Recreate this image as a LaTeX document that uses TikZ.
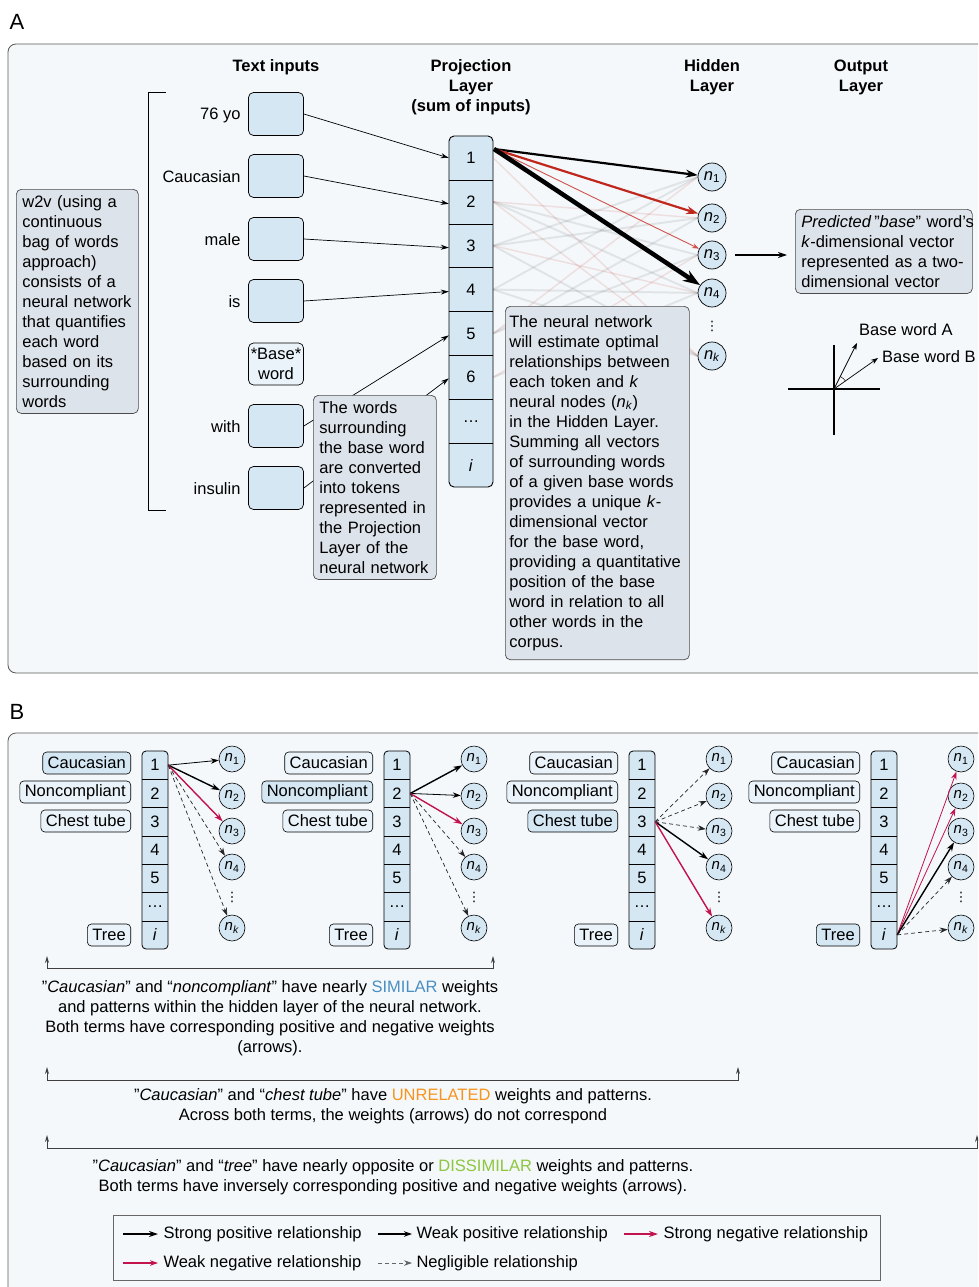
\documentclass[tikz,border=0pt]{standalone}
\usepackage{fontspec}
\setmainfont{Liberation Sans}
\newfontfamily\symfont{DejaVu Sans}
\usetikzlibrary{arrows.meta}

\definecolor{panelbg}{HTML}{F4F8FB}
\definecolor{cellblue}{HTML}{D4E7F3}
\definecolor{paleblue}{HTML}{EAF3FA}
\definecolor{notegray}{HTML}{DDE3EA}
\definecolor{wred}{HTML}{C0281E}
\definecolor{negred}{HTML}{C2134C}
\definecolor{simblue}{HTML}{4A8FC2}
\definecolor{unrorange}{HTML}{F7941D}
\definecolor{disgreen}{HTML}{8DC63F}

\newcommand{\basefont}{\fontsize{16.5}{20}\selectfont}
\newcommand{\nsub}[1]{\textit{n}\textsubscript{#1}}

\tikzset{
  panel/.style={draw=black!65, fill=panelbg, line width=0.8pt, rounded corners=8pt},
  hdr/.style={font=\basefont\bfseries, align=center},
  inbox/.style={draw, fill=cellblue, rounded corners=5pt, minimum width=55pt, minimum height=43pt, line width=0.7pt},
  note/.style={draw=black!70, fill=notegray, rounded corners=5pt, line width=0.7pt, anchor=north west, align=left, inner xsep=6pt, inner ysep=6pt},
  pcell/.style={minimum width=44pt, minimum height=43.875pt, inner sep=0pt},
  hid/.style={draw, circle, fill=cellblue, minimum size=28pt, inner sep=0pt, line width=0.7pt},
  feed/.style={-{Stealth[length=8pt,width=5pt]}, line width=0.7pt},
  ghost/.style={black, opacity=0.08, line width=2pt},
  ghostred/.style={wred, opacity=0.12, line width=1.5pt},
  vdotsnode/.style={font=\symfont\fontsize{13}{14}\selectfont, inner sep=0pt},
  % part B
  bcell/.style={minimum width=26pt, minimum height=28.29pt, inner sep=0pt},
  bnode/.style={draw, circle, fill=cellblue, minimum size=26pt, inner sep=0pt, line width=0.6pt, font=\fontsize{15}{18}\selectfont},
  wbox/.style={draw, rounded corners=4pt, anchor=east, minimum height=22pt, inner xsep=5pt, inner ysep=2pt, line width=0.6pt},
  spos/.style={-{Stealth[length=9pt,width=6pt]}, line width=1.4pt, black},
  wpos/.style={-{Stealth[length=8pt,width=5.5pt]}, line width=0.8pt, black},
  sneg/.style={-{Stealth[length=9pt,width=6pt]}, line width=1.4pt, negred},
  wneg/.style={-{Stealth[length=8pt,width=5.5pt]}, line width=0.8pt, negred},
  negl/.style={-{Stealth[length=8pt,width=5.5pt]}, line width=0.7pt, black!85, dash pattern=on 4pt off 3pt},
  spanline/.style={{Stealth[length=7pt,width=4pt]}-{Stealth[length=7pt,width=4pt]}, line width=0.8pt, black!75},
}

\begin{document}
\begin{tikzpicture}[x=1pt, y=-1pt, font=\basefont]
\useasboundingbox (0,0) rectangle (978,1287);
\clip (0,0) rectangle (978,1287);

% ---------- A ----------
\node[font=\fontsize{22}{24}\selectfont] (labA) at (17,22) {A};
\draw[panel] (8,44) rectangle (995,673);

\node[hdr] (hText) at (276,67) {Text inputs};
\node[hdr] (hProj) at (471,87) {Projection\\Layer\\(sum of inputs)};
\node[hdr] (hHid) at (712,77) {Hidden\\Layer};
\node[hdr] (hOut) at (861,77) {Output\\Layer};

\draw[line width=0.8pt] (166,92) -- (148,92) -- (148,510) -- (166,510);

\foreach \i/\y/\lab in {1/114/76 yo, 2/176/Caucasian, 3/239/male, 4/301/is, 6/426/with, 7/488/insulin}{
  \node[inbox] (in\i) at (276,\y) {};
  \node[anchor=east] (lab\i) at (244,\y+1) {\lab};
}
\node[inbox, fill=paleblue, align=center, minimum height=42pt, inner sep=1pt] (in5) at (276,364) {*Base*\\word};

% projection layer
\draw[fill=cellblue, rounded corners=5pt, line width=0.9pt] (449,136) rectangle (493,487);
\foreach \k/\t in {1/1,2/2,3/3,4/4,5/5,6/6,7/\ldots,8/\textit{i}}
  \node[pcell] (p\k) at (471,{157.94+(\k-1)*43.875}) {\t};
\foreach \k in {1,2,3,4,5,6,7}
  \draw[line width=0.9pt] (p\k.south west) -- (p\k.south east);

\draw[feed] (in1.east) -- (p1.west);
\draw[feed] (in2.east) -- ([yshift=-2pt]p2.west);
\draw[feed] (in3.east) -- ([yshift=-2pt]p3.west);
\draw[feed] (in4.east) -- ([yshift=-2pt]p4.west);
\draw[feed] (in6.east) -- ([yshift=-2pt]p5.west);
\draw[feed] (in7.east) -- ([yshift=-1pt]p6.west);

% hidden layer
\foreach \j/\y/\s in {1/177/1, 2/218/2, 3/255/3, 4/293/4, k/356/\textit{k}}
  \node[hid] (h\j) at (712,\y) {\nsub{\s}};
\node[vdotsnode] (hdots) at (712,326) {⋮};

\foreach \a/\b in {2/3,2/4,3/1,3/2,4/1,4/4,5/2,5/3,6/4,4/k,3/k}
  \draw[ghost] (p\a.east) -- (h\b.west);
\foreach \a/\b in {1/k,2/2,3/4,5/1,6/3,2/k}
  \draw[ghostred] (p\a.east) -- (h\b.west);

\coordinate (p1out) at (494,149);
\draw[-{Stealth[length=12pt,width=8pt]}, line width=2.2pt] (p1out) -- (h1);
\draw[-{Stealth[length=12pt,width=8pt]}, line width=2.2pt, wred] (p1out) -- (h2);
\draw[-{Stealth[length=7pt,width=5pt]}, line width=0.9pt, wred!80] (p1out) -- (h3);
\draw[-{Stealth[length=17pt,width=12pt]}, line width=4.5pt] (p1out) -- (h4);

% notes
\node[note, text width=110pt] (w2vnote) at (16,189) {w2v (using a\\continuous\\bag of words\\approach)\\consists of a\\neural network\\that quantifies\\each word\\based on its\\surrounding\\words};
\node[note, text width=111pt] (wordsnote) at (313,395) {The words\\surrounding\\the base word\\are converted\\into tokens\\represented in\\the Projection\\Layer of the\\neural network};
\node[note, text width=176pt, inner xsep=4pt, inner ysep=9pt] (nnnote) at (505,306) {The neural network\\will estimate optimal\\relationships between\\each token and \textit{k}\\neural nodes (\nsub{\textit{k}})\\in the Hidden Layer.\\Summing all vectors\\of surrounding words\\of a given base words\\provides a unique \textit{k}-\\dimensional vector\\for the base word,\\\mbox{providing a quantitative}\\position of the base\\word in relation to all\\other words in the\\corpus.};
\node[note, text width=165pt] (outnote) at (795,209) {\mbox{\textit{Predicted}\,"\textit{base}” word's}\\\textit{k}-dimensional vector\\represented as a two-\\dimensional vector};

\draw[-{Stealth[length=9pt,width=6pt]}, line width=1.3pt, shorten <=9pt, shorten >=8pt] (h3.east) -- (h3 -| outnote.west);

% two-dimensional vector
\coordinate (orig) at (834,389);
\draw[line width=1.3pt] (788,389) -- (880,389);
\draw[line width=1.3pt] (834,345) -- (834,435);
\node[anchor=west, inner sep=0pt] (baseA) at (859,330) {Base word A};
\node[anchor=west, inner sep=0pt] (baseB) at (882,357) {Base word B};
\coordinate (tipA) at (857,343);
\coordinate (tipB) at (878,358);
\draw[-{Stealth[length=7pt,width=5pt]}, line width=0.7pt] (orig) -- (tipA);
\draw[-{Stealth[length=7pt,width=5pt]}, line width=0.7pt] (orig) -- (tipB);
\draw[line width=0.5pt] (845.5,381) arc[start angle=35, end angle=63, radius=14pt];

% ---------- B ----------
\node[font=\fontsize{22}{24}\selectfont] (labB) at (17,712) {B};
\draw[panel] (8,733) rectangle (995,1300);

\foreach \g/\ox/\src/\ra/\rb/\rc/\rd/\re in {1/0/1/wpos/spos/sneg/negl/negl, 2/242/2/spos/wpos/sneg/negl/negl, 3/487/3/negl/negl/negl/spos/sneg, 4/729/7/wneg/wneg/spos/negl/negl}{
  \draw[fill=cellblue, rounded corners=4pt, line width=0.8pt] (142+\ox,751) rectangle (168+\ox,949);
  \foreach \k/\t in {1/1,2/2,3/3,4/4,5/5,6/\ldots,7/\textit{i}}
    \node[bcell] (g\g-c\k) at ({155+\ox},{765.14+(\k-1)*28.29}) {\t};
  \foreach \k in {1,2,3,4,5,6}
    \draw[line width=0.8pt] (g\g-c\k.south west) -- (g\g-c\k.south east);
  \foreach \w/\y/\txt in {1/763/Caucasian, 2/792/Noncompliant, 3/821/Chest tube, 4/935/Tree}{
    \ifnum\w=\g \def\wf{cellblue}\else\def\wf{paleblue}\fi
    \node[wbox, fill=\wf] (g\g-w\w) at (131+\ox,\y) {\txt};
  }
  \foreach \j/\y/\s in {1/759/1, 2/796/2, 3/831/3, 4/867/4, k/928/\textit{k}}
    \node[bnode] (g\g-n\j) at (232+\ox,\y) {\nsub{\s}};
  \node[vdotsnode] (g\g-dots) at (232+\ox,897) {⋮};
  \draw[\ra] (g\g-c\src.east) -- (g\g-n1);
  \draw[\rb] (g\g-c\src.east) -- (g\g-n2);
  \draw[\rc] (g\g-c\src.east) -- (g\g-n3);
  \draw[\rd] (g\g-c\src.east) -- (g\g-n4);
  \draw[\re] (g\g-c\src.east) -- (g\g-nk);
}

% comparisons
\draw[spanline] (47,956) -- (47,968) -- (493,968) -- (493,956);
\node[align=center] (cmp1) at (270,1018) {"\textit{Caucasian}” and “\textit{noncompliant}” have nearly \textcolor{simblue}{SIMILAR} weights\\and patterns within the hidden layer of the neural network.\\Both terms have corresponding positive and negative weights\\(arrows).};
\draw[spanline] (47,1067) -- (47,1080) -- (738,1080) -- (738,1067);
\node[align=center] (cmp2) at (393,1106) {"\textit{Caucasian}” and “\textit{chest tube}” have \textcolor{unrorange}{UNRELATED} weights and patterns.\\Across both terms, the weights (arrows) do not correspond};
\draw[spanline] (47,1135) -- (47,1148) -- (977,1148) -- (977,1135);
\node[align=center] (cmp3) at (393,1177) {"\textit{Caucasian}” and “\textit{tree}” have nearly opposite or \textcolor{disgreen}{DISSIMILAR} weights and patterns.\\Both terms have inversely corresponding positive and negative weights (arrows).};

% legend
\draw[line width=0.8pt, draw=black!60] (113,1215) rectangle (880,1280);
\node[anchor=west] (lg1) at (160,1234) {Strong positive relationship};
\node[anchor=west] (lg2) at (413,1234) {Weak positive relationship};
\node[anchor=west] (lg3) at (660,1234) {Strong negative relationship};
\node[anchor=west] (lg4) at (160,1263) {Weak negative relationship};
\node[anchor=west] (lg5) at (413,1263) {Negligible relationship};
\draw[spos] ([xshift=-37pt]lg1.west) -- ([xshift=-2pt]lg1.west);
\draw[wpos, line width=1.1pt] ([xshift=-35pt]lg2.west) -- ([xshift=-1pt]lg2.west);
\draw[sneg] ([xshift=-36pt]lg3.west) -- ([xshift=-2pt]lg3.west);
\draw[wneg, line width=1.1pt] ([xshift=-37pt]lg4.west) -- ([xshift=-2pt]lg4.west);
\draw[negl, black!60] ([xshift=-35pt]lg5.west) -- ([xshift=-1pt]lg5.west);
\end{tikzpicture}
\end{document}
